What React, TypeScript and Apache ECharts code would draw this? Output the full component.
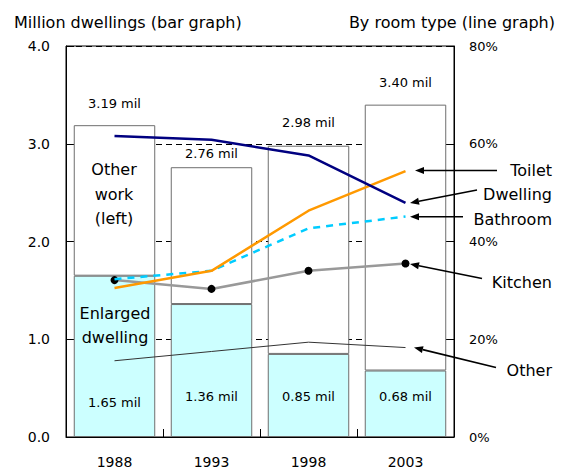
import React, { useEffect, useRef } from "react";
import * as echarts from "echarts";

const years = ["1988", "1993", "1998", "2003"];
const enlarged = [1.65, 1.36, 0.85, 0.68];
const otherWork = [1.54, 1.4, 2.13, 2.72];
const totals = [3.19, 2.76, 2.98, 3.4];
const dwelling = [61.6, 60.8, 57.6, 47.9];
const toilet = [30.5, 34.0, 46.3, 54.4];
const bathroom = [32.3, 34.0, 42.7, 45.1];
const kitchen = [32.1, 30.3, 34.0, 35.5];
const otherRoom = [15.6, 17.5, 19.4, 18.3];
const leftTicks = [0, 1, 2, 3, 4];
const rightTicks = [0, 20, 40, 60, 80];

const FONT = "'DejaVu Sans', sans-serif";

function arrow(x1: number, y1: number, x2: number, y2: number) {
  const dx = x2 - x1;
  const dy = y2 - y1;
  const len = Math.sqrt(dx * dx + dy * dy);
  const ux = dx / len;
  const uy = dy / len;
  const hl = 9;
  const hw = 3.5;
  const bx = x2 - ux * hl;
  const by = y2 - uy * hl;
  const nx = -uy;
  const ny = ux;
  return [
    {
      type: "line",
      shape: { x1, y1, x2: bx, y2: by },
      style: { stroke: "#000", lineWidth: 1.6 },
      z: 100,
    },
    {
      type: "polygon",
      shape: {
        points: [
          [x2, y2],
          [bx + nx * hw, by + ny * hw],
          [bx - nx * hw, by - ny * hw],
        ],
      },
      style: { fill: "#000" },
      z: 100,
    },
  ];
}

function label(text: string, x: number, y: number, size = 16, align = "right") {
  return {
    type: "text",
    x,
    y,
    z: 100,
    style: {
      text,
      fill: "#000",
      font: `${size}px ${FONT}`,
      textAlign: align,
      textVerticalAlign: "middle",
    },
  };
}

export default function App() {
  const ref = useRef<HTMLDivElement>(null);
  useEffect(() => {
    if (!ref.current) return;
    const chart = echarts.init(ref.current, null, { renderer: "svg" });
    const topDist = [15, 7, 17, 16];
    const botDist = [28, 34, 34, 34];
    const option: any = {
      animation: false,
      backgroundColor: "#fff",
      grid: {
        left: 66,
        right: 109,
        top: 46,
        bottom: 32,
        show: true,
        borderColor: "#000",
        borderWidth: 1,
      },
      xAxis: {
        type: "category",
        data: years,
        boundaryGap: true,
        axisLine: { lineStyle: { color: "#000", width: 1 } },
        axisTick: { show: true, inside: true, length: 8, lineStyle: { color: "#000" } },
        axisLabel: { color: "#000", fontSize: 14, fontFamily: FONT, margin: 18 },
      },
      yAxis: [
        {
          type: "value",
          min: leftTicks[0],
          max: leftTicks[leftTicks.length - 1],
          interval: 1,
          axisLine: { show: true, lineStyle: { color: "#000" } },
          axisTick: { show: true, inside: true, length: 8, lineStyle: { color: "#000" } },
          axisLabel: {
            color: "#000",
            fontSize: 14,
            fontFamily: FONT,
            margin: 16,
            formatter: (v: number) => v.toFixed(1),
          },
          splitLine: { show: true, lineStyle: { color: "#000", type: [6, 4], width: 1 } },
        },
        {
          type: "value",
          min: rightTicks[0],
          max: rightTicks[rightTicks.length - 1],
          interval: 20,
          axisLine: { show: true, lineStyle: { color: "#000" } },
          axisTick: { show: true, inside: true, length: 8, lineStyle: { color: "#000" } },
          axisLabel: {
            color: "#000",
            fontSize: 13,
            fontFamily: FONT,
            margin: 15,
            formatter: "{value}%",
          },
          splitLine: { show: false },
        },
      ],
      series: [
        {
          name: "Enlarged dwelling",
          type: "bar",
          stack: "b",
          barCategoryGap: "16%",
          yAxisIndex: 0,
          itemStyle: { color: "#CCFFFF", borderColor: "#6e6e6e", borderWidth: 1 },
          data: enlarged.map((v, i) => ({
            value: v,
            label: {
              show: true,
              position: "insideBottom",
              distance: botDist[i],
              formatter: () => `${enlarged[i].toFixed(2)} mil`,
              color: "#000",
              fontSize: 13,
              fontFamily: FONT,
            },
          })),
        },
        {
          name: "Other work",
          type: "bar",
          stack: "b",
          yAxisIndex: 0,
          itemStyle: { color: "#fff", borderColor: "#6e6e6e", borderWidth: 1 },
          data: otherWork.map((v, i) => ({
            value: v,
            label: {
              show: true,
              position: "top",
              distance: topDist[i],
              formatter: () => `${totals[i].toFixed(2)} mil`,
              color: "#000",
              fontSize: 13,
              fontFamily: FONT,
            },
          })),
        },
        {
          name: "Other",
          type: "line",
          yAxisIndex: 1,
          data: otherRoom,
          symbol: "none",
          lineStyle: { color: "#333", width: 1 },
          z: 5,
        },
        {
          name: "Kitchen",
          type: "line",
          yAxisIndex: 1,
          data: kitchen,
          symbol: "circle",
          symbolSize: 8,
          itemStyle: { color: "#000" },
          lineStyle: { color: "#999", width: 2.5 },
          z: 6,
        },
        {
          name: "Bathroom",
          type: "line",
          yAxisIndex: 1,
          data: bathroom,
          symbol: "none",
          lineStyle: { color: "#00CCFF", width: 2.5, type: [7, 6] },
          z: 7,
        },
        {
          name: "Toilet",
          type: "line",
          yAxisIndex: 1,
          data: toilet,
          symbol: "none",
          lineStyle: { color: "#FF9900", width: 2.5 },
          z: 8,
        },
        {
          name: "Dwelling",
          type: "line",
          yAxisIndex: 1,
          data: dwelling,
          symbol: "none",
          lineStyle: { color: "#000080", width: 2.5 },
          z: 9,
        },
      ],
      graphic: [
        label("Million dwellings (bar graph)", 14, 22, 16, "left"),
        label("By room type (line graph)", 555, 22, 16, "right"),
        {
          type: "text",
          x: 114,
          y: 194,
          z: 100,
          style: {
            text: "Other\nwork\n(left)",
            fill: "#000",
            font: `16px ${FONT}`,
            lineHeight: 24.5,
            textAlign: "center",
            textVerticalAlign: "middle",
          },
        },
        {
          type: "text",
          x: 115,
          y: 325,
          z: 100,
          style: {
            text: "Enlarged\ndwelling",
            fill: "#000",
            font: `16px ${FONT}`,
            lineHeight: 24,
            textAlign: "center",
            textVerticalAlign: "middle",
          },
        },
        label("Toilet", 552, 170, 16),
        label("Dwelling", 552, 194, 16),
        label("Bathroom", 552, 219, 16),
        label("Kitchen", 552, 282, 16),
        label("Other", 552, 370, 16),
        ...arrow(497, 170.5, 415, 170.5),
        ...arrow(477, 190, 410, 203),
        ...arrow(463, 216.7, 410, 216.7),
        ...arrow(482, 278.5, 410, 264),
        ...arrow(496, 367.5, 414, 347.5),
      ],
    };
    chart.setOption(option);
    return () => chart.dispose();
  }, []);
  return (
    <div
      ref={ref}
      style={{ position: "absolute", left: 0, top: 0, width: 563, height: 469 }}
    />
  );
}
